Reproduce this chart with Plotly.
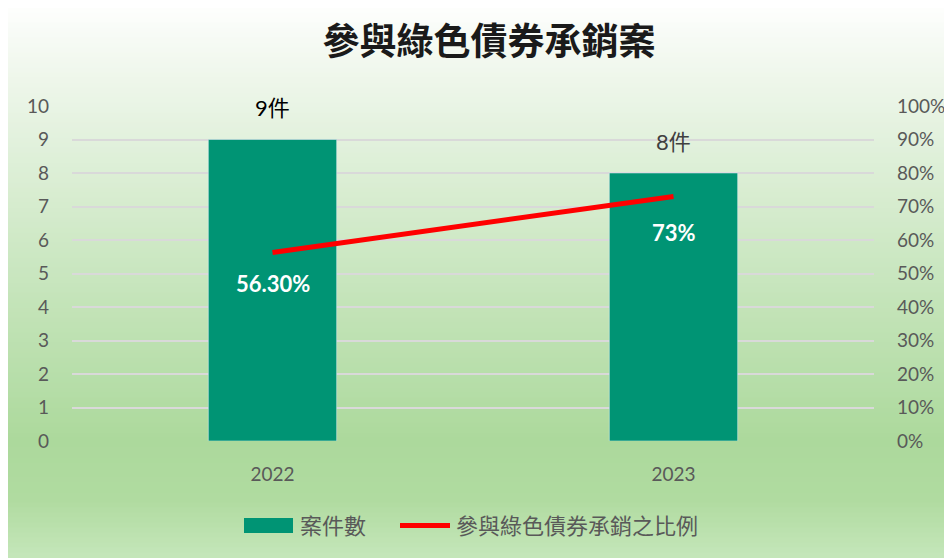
import plotly.graph_objects as go

# ---- data ----
years = ["2022", "2023"]
case_counts = [9, 8]
case_labels = ["9件", "8件"]
ratio = [0.563, 0.73]
ratio_labels = ["56.30%", "73%"]
left_ticks = list(range(0, 11))
right_ticks = [i / 10 for i in range(0, 11)]
right_tick_text = [f"{i*10}%" for i in range(0, 11)]

title_text = "參與綠色債券承銷案"
bar_name = "案件數"
line_name = "參與綠色債券承銷之比例"

# the page body has an 8px margin, so the figure is drawn offset by (8, 8)
OFF = 8
W, H = 952 - OFF, 558 - OFF
ML, MR, MT, MB = 64, 78, 98, 117
PH = H - MT - MB

BAR_COLOR = "#009474"
LINE_COLOR = "#ff0000"
FONT = "Lato, 'Noto Sans CJK TC', sans-serif"


def py(px):
    """reference pixel y (page) -> paper y"""
    return (H - MB - (px - OFF)) / PH


def pxx(px):
    return ((px - OFF) - ML) / (W - ML - MR)


fig = go.Figure()

xi = list(range(len(years)))

fig.add_trace(go.Bar(
    x=xi, y=case_counts, name=bar_name, marker_color=BAR_COLOR,
    width=0.32, showlegend=False, yaxis="y",
))
fig.add_trace(go.Scatter(
    x=xi, y=ratio, name=line_name, mode="lines",
    line=dict(color=LINE_COLOR, width=5), yaxis="y2", showlegend=False,
))

# gradient background (reference page pixel stops)
stops = [(0, (255, 255, 255)), (60, (242, 248, 239)), (250, (205, 232, 196)),
         (441, (172, 217, 156)), (500, (176, 219, 160)), (558, (197, 230, 186))]


def col_at(p):
    for (p0, c0), (p1, c1) in zip(stops[:-1], stops[1:]):
        if p0 <= p <= p1:
            t = (p - p0) / (p1 - p0)
            return tuple(round(a + (b - a) * t) for a, b in zip(c0, c1))
    return stops[-1][1]


shapes = []
n = 110
step = (558 - OFF) / n
for i in range(n):
    top = OFF + i * step
    bot = OFF + (i + 1) * step + 0.8
    c = col_at(top + step / 2)
    shapes.append(dict(
        type="rect", xref="paper", yref="paper", layer="below",
        x0=pxx(OFF - 2), x1=pxx(960), y0=py(min(bot, 562)), y1=py(top - 0.5 if i else top - 3),
        fillcolor=f"rgb{c}", line=dict(width=0),
    ))

# legend (manual)
shapes.append(dict(type="rect", xref="paper", yref="paper",
                   x0=pxx(244), x1=pxx(293), y0=py(533), y1=py(518),
                   fillcolor=BAR_COLOR, line=dict(width=0)))
shapes.append(dict(type="line", xref="paper", yref="paper",
                   x0=pxx(400), x1=pxx(450), y0=py(525.5), y1=py(525.5),
                   line=dict(color=LINE_COLOR, width=5)))

annotations = []
annotations.append(dict(xref="paper", yref="paper", x=pxx(298), y=py(525),
                        text=bar_name, showarrow=False, xanchor="left",
                        yanchor="middle",
                        font=dict(size=22, color="#595959", family=FONT)))
annotations.append(dict(xref="paper", yref="paper", x=pxx(454), y=py(525),
                        text=line_name, showarrow=False, xanchor="left",
                        yanchor="middle",
                        font=dict(size=22, color="#595959", family=FONT)))

# data labels
label_colors = ["#000000", "#404040"]
for xv, yv, t, c in zip(xi, case_counts, case_labels, label_colors):
    annotations.append(dict(x=xv, y=yv, xref="x", yref="y", text=t,
                            showarrow=False, yshift=32, yanchor="middle",
                            font=dict(size=22, color=c, family=FONT)))
shifts = [-31, -36]
for xv, yv, t, s in zip(xi, ratio, ratio_labels, shifts):
    annotations.append(dict(x=xv, y=yv, xref="x", yref="y2", text=f"<b>{t}</b>",
                            showarrow=False, yshift=s, yanchor="middle",
                            font=dict(size=22, color="#ffffff", family=FONT)))

fig.update_layout(
    width=W, height=H,
    margin=dict(l=ML, r=MR, t=MT, b=MB, pad=0, autoexpand=False),
    paper_bgcolor="#ffffff",
    plot_bgcolor="rgba(0,0,0,0)",
    title=dict(text=f"<b>{title_text}</b>", x=(489 - OFF) / W, xanchor="center",
               xref="container",
               y=1 - (42 - OFF) / H, yanchor="middle", yref="container",
               font=dict(size=37, color="#1a1a1a", family="'Noto Sans CJK TC', sans-serif")),
    xaxis=dict(range=[-0.5, 1.5], tickvals=xi, ticktext=years, showgrid=False,
               zeroline=False, showline=False, ticks="", automargin=False,
               tickfont=dict(size=19, color="#595959", family=FONT),
               ticklabelstandoff=20),
    yaxis=dict(range=[0, 10], tickvals=left_ticks, showgrid=True,
               gridcolor="#d9d9d9", gridwidth=1.5, zeroline=False,
               showline=False, ticks="", automargin=False,
               tickfont=dict(size=19, color="#595959", family=FONT),
               ticklabelstandoff=22),
    yaxis2=dict(range=[0, 1], tickvals=right_ticks, ticktext=right_tick_text,
                overlaying="y", side="right", showgrid=False, zeroline=False,
                showline=False, ticks="", automargin=False,
                tickfont=dict(size=19, color="#595959", family=FONT),
                ticklabelstandoff=22),
    shapes=shapes,
    annotations=annotations,
    showlegend=False,
)

fig.write_html("out.html")
